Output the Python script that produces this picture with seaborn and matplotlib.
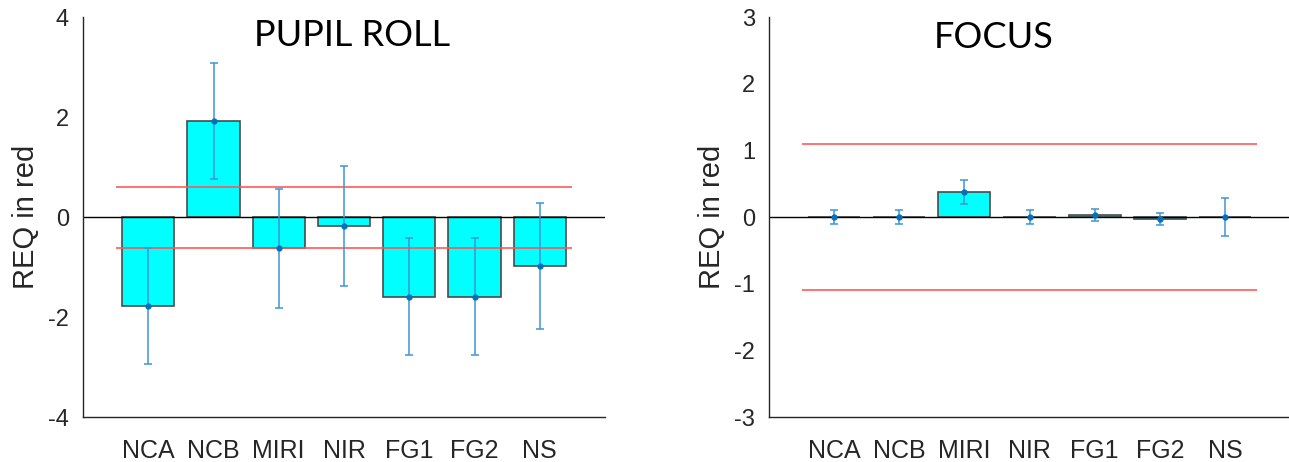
import numpy as np
import pandas as pd
import seaborn as sns
import matplotlib
matplotlib.use("Agg")
import matplotlib.pyplot as plt

# values
instruments = ["NCA", "NCB", "MIRI", "NIR", "FG1", "FG2", "NS"]

roll_mean = [-1.78, 1.92, -0.62, -0.17, -1.59, -1.59, -0.97]
roll_err = [1.16, 1.16, 1.19, 1.20, 1.17, 1.17, 1.26]
roll_limit = 0.61

focus_mean = [0.0, 0.0, 0.375, 0.0, 0.03, -0.03, 0.0]
focus_err = [0.10, 0.10, 0.18, 0.10, 0.09, 0.095, 0.28]
focus_limit = 1.1

sns.set_style("white")
plt.rcParams["font.family"] = ["Liberation Sans", "DejaVu Sans"]
plt.rcParams["axes.unicode_minus"] = False
plt.rcParams["xtick.direction"] = "in"
plt.rcParams["ytick.direction"] = "in"


def draw_panel(ax, means, errs, limit, ylim, yticks, title, title_pos):
    df = pd.DataFrame({"inst": instruments, "req": means})
    sns.barplot(data=df, x="inst", y="req", order=instruments, color="#00FFFF",
                saturation=1, width=0.8, edgecolor="#4a4a4a", linewidth=1.2,
                errorbar=None, ax=ax)
    pos = np.arange(len(instruments))
    ax.axhline(0, color="black", lw=1.0, zorder=1)
    ax.hlines([limit, -limit], -0.5, len(instruments) - 0.5,
              color="#FF5555", lw=1.3, alpha=0.9, zorder=3)
    ax.errorbar(pos, means, yerr=errs, fmt="none", ecolor="#3E95D6", elinewidth=1.3,
                capsize=3, capthick=1.3, alpha=0.85, zorder=4)
    ax.plot(pos, means, "o", color="#0072BD", ms=3.5, zorder=5)

    ax.set_xlim(-1, len(instruments))
    ax.set_ylim(*ylim)
    ax.set_yticks(yticks)
    ax.set_xlabel("")
    ax.set_ylabel("REQ in red", fontsize=21, labelpad=6, color="#262626")
    ax.tick_params(axis="both", labelsize=17, length=4, width=0.8,
                   color="#262626", labelcolor="#262626", pad=10)
    ax.tick_params(axis="x", labelsize=18, pad=16)
    sns.despine(ax=ax)
    for side in ["left", "bottom"]:
        ax.spines[side].set_color("#262626")
        ax.spines[side].set_linewidth(1.0)
    ax.text(title_pos[0], title_pos[1], title, transform=ax.transAxes,
            ha="center", va="center", fontsize=26, color="black",
            family=["Lato", "DejaVu Sans"])


fig = plt.figure(figsize=(12.89, 4.62), dpi=100)
ax1 = fig.add_axes([83 / 1289, 45 / 462, 522 / 1289, 400 / 462])
ax2 = fig.add_axes([769 / 1289, 45 / 462, 521 / 1289, 400 / 462])

draw_panel(ax1, roll_mean, roll_err, roll_limit, (-4, 4), [-4, -2, 0, 2, 4],
           "PUPIL ROLL", (0.515, 0.954))
draw_panel(ax2, focus_mean, focus_err, focus_limit, (-3, 3), [-3, -2, -1, 0, 1, 2, 3],
           "FOCUS", (0.432, 0.948))

fig.savefig("out.png", dpi=100)
